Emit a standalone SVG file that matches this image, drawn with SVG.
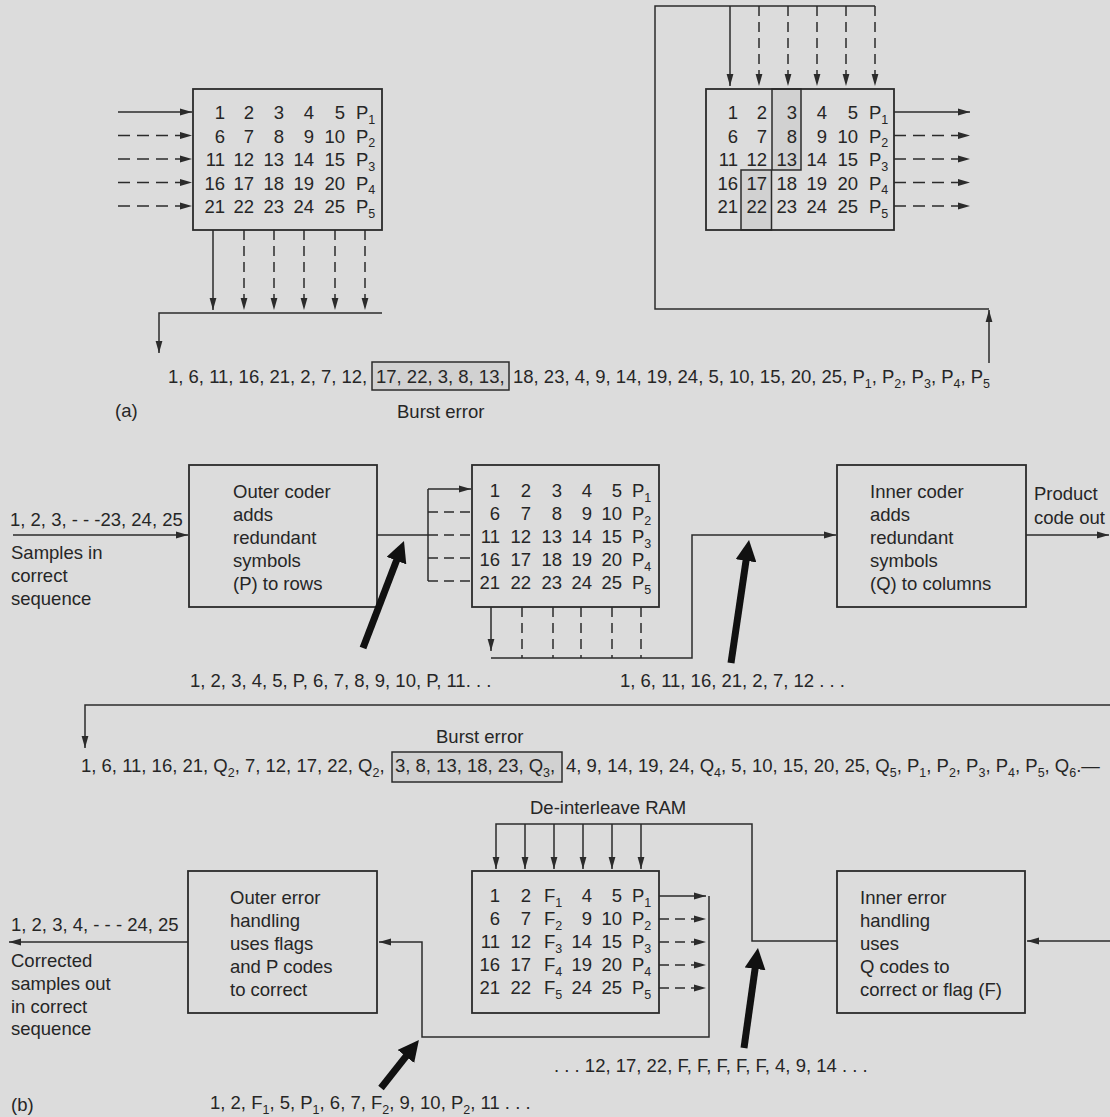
<svg xmlns="http://www.w3.org/2000/svg" width="1110" height="1117" viewBox="0 0 1110 1117">
<defs>
  <marker id="ah" viewBox="0 0 12 8" markerWidth="12" markerHeight="8" refX="12" refY="4" orient="auto" markerUnits="userSpaceOnUse">
    <path d="M0,0.6 L12,4 L0,7.4 z" fill="#2b2b2b"/>
  </marker>
  <marker id="big" viewBox="0 0 10 10" markerWidth="3" markerHeight="3" refX="4.3" refY="5" orient="auto">
    <path d="M0,0 L10,5 L0,10 z" fill="#111"/>
  </marker>
</defs>
<style>
  text{font-family:"Liberation Sans",Arial,Helvetica,sans-serif;font-size:18.5px;fill:#262626}
  .e{text-anchor:end}
  .s{font-size:12.5px}
  .ln{fill:none;stroke:#2b2b2b;stroke-width:1.5}
  .d{stroke-dasharray:10 6}
  .dh{stroke-dasharray:12 7}
  .box{fill:none;stroke:#2b2b2b;stroke-width:1.8}
  .hl{fill:#d1d1d1;stroke:#2b2b2b;stroke-width:1.5}
  .thick{fill:none;stroke:#111;stroke-width:7}
</style>
<rect x="0" y="0" width="1110" height="1117" fill="#dcdcdc"/>

<!-- ===== (a) interleave by rows, read by columns ===== -->
<g id="matrix-a-in">
  <rect class="box" x="193" y="89" width="189" height="141"/>
  <text class="e"><tspan x="225" y="119">1</tspan><tspan x="254" y="119">2</tspan><tspan x="284" y="119">3</tspan><tspan x="314" y="119">4</tspan><tspan x="345" y="119">5</tspan></text>
  <text class="e"><tspan x="225" y="142.5">6</tspan><tspan x="254" y="142.5">7</tspan><tspan x="284" y="142.5">8</tspan><tspan x="314" y="142.5">9</tspan><tspan x="345" y="142.5">10</tspan></text>
  <text class="e"><tspan x="225" y="166">11</tspan><tspan x="254" y="166">12</tspan><tspan x="284" y="166">13</tspan><tspan x="314" y="166">14</tspan><tspan x="345" y="166">15</tspan></text>
  <text class="e"><tspan x="225" y="189.5">16</tspan><tspan x="254" y="189.5">17</tspan><tspan x="284" y="189.5">18</tspan><tspan x="314" y="189.5">19</tspan><tspan x="345" y="189.5">20</tspan></text>
  <text class="e"><tspan x="225" y="213">21</tspan><tspan x="254" y="213">22</tspan><tspan x="284" y="213">23</tspan><tspan x="314" y="213">24</tspan><tspan x="345" y="213">25</tspan></text>
  <text x="356" y="119">P<tspan class="s" dy="4.5">1</tspan></text>
  <text x="356" y="142.5">P<tspan class="s" dy="4.5">2</tspan></text>
  <text x="356" y="166">P<tspan class="s" dy="4.5">3</tspan></text>
  <text x="356" y="189.5">P<tspan class="s" dy="4.5">4</tspan></text>
  <text x="356" y="213">P<tspan class="s" dy="4.5">5</tspan></text>
</g>

<g id="matrix-a-out">
  <path class="hl" d="M772,89 H801 V170 H772 Z"/>
  <path class="hl" d="M741,170 H771.5 V230 H741 Z"/>
  <rect class="box" x="706" y="89" width="188" height="141"/>
  <text class="e"><tspan x="738" y="119">1</tspan><tspan x="767" y="119">2</tspan><tspan x="797" y="119">3</tspan><tspan x="827" y="119">4</tspan><tspan x="858" y="119">5</tspan></text>
  <text class="e"><tspan x="738" y="142.5">6</tspan><tspan x="767" y="142.5">7</tspan><tspan x="797" y="142.5">8</tspan><tspan x="827" y="142.5">9</tspan><tspan x="858" y="142.5">10</tspan></text>
  <text class="e"><tspan x="738" y="166">11</tspan><tspan x="767" y="166">12</tspan><tspan x="797" y="166">13</tspan><tspan x="827" y="166">14</tspan><tspan x="858" y="166">15</tspan></text>
  <text class="e"><tspan x="738" y="189.5">16</tspan><tspan x="767" y="189.5">17</tspan><tspan x="797" y="189.5">18</tspan><tspan x="827" y="189.5">19</tspan><tspan x="858" y="189.5">20</tspan></text>
  <text class="e"><tspan x="738" y="213">21</tspan><tspan x="767" y="213">22</tspan><tspan x="797" y="213">23</tspan><tspan x="827" y="213">24</tspan><tspan x="858" y="213">25</tspan></text>
  <text x="869" y="119">P<tspan class="s" dy="4.5">1</tspan></text>
  <text x="869" y="142.5">P<tspan class="s" dy="4.5">2</tspan></text>
  <text x="869" y="166">P<tspan class="s" dy="4.5">3</tspan></text>
  <text x="869" y="189.5">P<tspan class="s" dy="4.5">4</tspan></text>
  <text x="869" y="213">P<tspan class="s" dy="4.5">5</tspan></text>
</g>

<g id="sequence-a">
  <rect class="hl" x="372" y="362" width="137" height="28"/>
  <text x="168" y="383">1, 6, 11, 16, 21, 2, 7, 12,</text>
  <text x="376" y="383">17, 22, 3, 8, 13,</text>
  <text x="513" y="383">18, 23, 4, 9, 14, 19, 24, 5, 10, 15, 20, 25, P<tspan class="s" dy="4.5">1</tspan><tspan dy="-4.5">, P</tspan><tspan class="s" dy="4.5">2</tspan><tspan dy="-4.5">, P</tspan><tspan class="s" dy="4.5">3</tspan><tspan dy="-4.5">, P</tspan><tspan class="s" dy="4.5">4</tspan><tspan dy="-4.5">, P</tspan><tspan class="s" dy="4.5">5</tspan></text>
  <text x="397" y="418">Burst error</text>
  <text x="115" y="417">(a)</text>
</g>

<g id="connectors-a">
  <!-- row inputs -->
  <path class="ln" d="M118,112 H192" marker-end="url(#ah)"/>
  <path class="ln dh" d="M118,135.5 H192" marker-end="url(#ah)"/>
  <path class="ln dh" d="M118,159 H192" marker-end="url(#ah)"/>
  <path class="ln dh" d="M118,182.5 H192" marker-end="url(#ah)"/>
  <path class="ln dh" d="M118,206 H192" marker-end="url(#ah)"/>
  <!-- column outputs -->
  <path class="ln" d="M213,230 V310" marker-end="url(#ah)"/>
  <path class="ln d" d="M244,230 V310" marker-end="url(#ah)"/>
  <path class="ln d" d="M274,230 V310" marker-end="url(#ah)"/>
  <path class="ln d" d="M304,230 V310" marker-end="url(#ah)"/>
  <path class="ln d" d="M335,230 V310" marker-end="url(#ah)"/>
  <path class="ln d" d="M365,230 V310" marker-end="url(#ah)"/>
  <path class="ln" d="M382,313 H159 V353" marker-end="url(#ah)"/>
  <!-- loop back to the de-interleave matrix -->
  <path class="ln" d="M989,363 V310" marker-end="url(#ah)"/>
  <path class="ln" d="M989,309 H655 V6 H875"/>
  <path class="ln" d="M730,6 V86" marker-end="url(#ah)"/>
  <path class="ln d" d="M759,6 V86" marker-end="url(#ah)"/>
  <path class="ln d" d="M788,6 V86" marker-end="url(#ah)"/>
  <path class="ln d" d="M817,6 V86" marker-end="url(#ah)"/>
  <path class="ln d" d="M846,6 V86" marker-end="url(#ah)"/>
  <path class="ln d" d="M875,6 V86" marker-end="url(#ah)"/>
  <!-- row outputs -->
  <path class="ln" d="M894,112 H970" marker-end="url(#ah)"/>
  <path class="ln dh" d="M894,135.5 H970" marker-end="url(#ah)"/>
  <path class="ln dh" d="M894,159 H970" marker-end="url(#ah)"/>
  <path class="ln dh" d="M894,182.5 H970" marker-end="url(#ah)"/>
  <path class="ln dh" d="M894,206 H970" marker-end="url(#ah)"/>
</g>

<!-- ===== (b) product code encoder / decoder ===== -->
<g id="outer-coder">
  <rect class="box" x="189" y="465" width="188" height="142"/>
  <text x="233" y="498">Outer coder</text>
  <text x="233" y="521">adds</text>
  <text x="233" y="544">redundant</text>
  <text x="233" y="567">symbols</text>
  <text x="233" y="590">(P) to rows</text>
</g>

<g id="interleave-matrix">
  <rect class="box" x="472" y="465" width="187" height="142"/>
  <text class="e"><tspan x="500" y="497">1</tspan><tspan x="531" y="497">2</tspan><tspan x="562" y="497">3</tspan><tspan x="592" y="497">4</tspan><tspan x="622" y="497">5</tspan></text>
  <text class="e"><tspan x="500" y="520">6</tspan><tspan x="531" y="520">7</tspan><tspan x="562" y="520">8</tspan><tspan x="592" y="520">9</tspan><tspan x="622" y="520">10</tspan></text>
  <text class="e"><tspan x="500" y="543">11</tspan><tspan x="531" y="543">12</tspan><tspan x="562" y="543">13</tspan><tspan x="592" y="543">14</tspan><tspan x="622" y="543">15</tspan></text>
  <text class="e"><tspan x="500" y="566">16</tspan><tspan x="531" y="566">17</tspan><tspan x="562" y="566">18</tspan><tspan x="592" y="566">19</tspan><tspan x="622" y="566">20</tspan></text>
  <text class="e"><tspan x="500" y="589">21</tspan><tspan x="531" y="589">22</tspan><tspan x="562" y="589">23</tspan><tspan x="592" y="589">24</tspan><tspan x="622" y="589">25</tspan></text>
  <text x="632" y="497">P<tspan class="s" dy="4.5">1</tspan></text>
  <text x="632" y="520">P<tspan class="s" dy="4.5">2</tspan></text>
  <text x="632" y="543">P<tspan class="s" dy="4.5">3</tspan></text>
  <text x="632" y="566">P<tspan class="s" dy="4.5">4</tspan></text>
  <text x="632" y="589">P<tspan class="s" dy="4.5">5</tspan></text>
</g>

<g id="inner-coder">
  <rect class="box" x="837" y="465" width="189" height="142"/>
  <text x="870" y="498">Inner coder</text>
  <text x="870" y="521">adds</text>
  <text x="870" y="544">redundant</text>
  <text x="870" y="567">symbols</text>
  <text x="870" y="590">(Q) to columns</text>
</g>

<g id="outer-error">
  <rect class="box" x="188" y="871" width="189" height="142"/>
  <text x="230" y="904">Outer error</text>
  <text x="230" y="927">handling</text>
  <text x="230" y="950">uses flags</text>
  <text x="230" y="973">and P codes</text>
  <text x="230" y="996">to correct</text>
</g>

<g id="deinterleave-ram">
  <rect class="box" x="472" y="871" width="187" height="142"/>
  <text class="e"><tspan x="500" y="902">1</tspan><tspan x="531" y="902">2</tspan><tspan x="592" y="902">4</tspan><tspan x="622" y="902">5</tspan></text>
  <text class="e"><tspan x="500" y="925">6</tspan><tspan x="531" y="925">7</tspan><tspan x="592" y="925">9</tspan><tspan x="622" y="925">10</tspan></text>
  <text class="e"><tspan x="500" y="948">11</tspan><tspan x="531" y="948">12</tspan><tspan x="592" y="948">14</tspan><tspan x="622" y="948">15</tspan></text>
  <text class="e"><tspan x="500" y="971">16</tspan><tspan x="531" y="971">17</tspan><tspan x="592" y="971">19</tspan><tspan x="622" y="971">20</tspan></text>
  <text class="e"><tspan x="500" y="994">21</tspan><tspan x="531" y="994">22</tspan><tspan x="592" y="994">24</tspan><tspan x="622" y="994">25</tspan></text>
  <text x="544" y="902">F<tspan class="s" dy="4.5">1</tspan></text>
  <text x="544" y="925">F<tspan class="s" dy="4.5">2</tspan></text>
  <text x="544" y="948">F<tspan class="s" dy="4.5">3</tspan></text>
  <text x="544" y="971">F<tspan class="s" dy="4.5">4</tspan></text>
  <text x="544" y="994">F<tspan class="s" dy="4.5">5</tspan></text>
  <text x="632" y="902">P<tspan class="s" dy="4.5">1</tspan></text>
  <text x="632" y="925">P<tspan class="s" dy="4.5">2</tspan></text>
  <text x="632" y="948">P<tspan class="s" dy="4.5">3</tspan></text>
  <text x="632" y="971">P<tspan class="s" dy="4.5">4</tspan></text>
  <text x="632" y="994">P<tspan class="s" dy="4.5">5</tspan></text>
</g>

<g id="inner-error">
  <rect class="box" x="837" y="871" width="188" height="142"/>
  <text x="860" y="904">Inner error</text>
  <text x="860" y="927">handling</text>
  <text x="860" y="950">uses</text>
  <text x="860" y="973">Q codes to</text>
  <text x="860" y="996">correct or flag (F)</text>
</g>

<g id="labels-b">
  <text x="10" y="526">1, 2, 3, - - -23, 24, 25</text>
  <text x="11" y="559">Samples in</text>
  <text x="11" y="582">correct</text>
  <text x="11" y="605">sequence</text>
  <text x="1034" y="500">Product</text>
  <text x="1034" y="524">code out</text>
  <text x="190" y="687">1, 2, 3, 4, 5, P, 6, 7, 8, 9, 10, P, 11. . .</text>
  <text x="620" y="687">1, 6, 11, 16, 21, 2, 7, 12 . . .</text>
  <text x="436" y="743">Burst error</text>
  <rect class="hl" x="392" y="752" width="170" height="30"/>
  <text x="81" y="772">1, 6, 11, 16, 21, Q<tspan class="s" dy="4.5">2</tspan><tspan dy="-4.5">, 7, 12, 17, 22, Q</tspan><tspan class="s" dy="4.5">2</tspan><tspan dy="-4.5">,</tspan></text>
  <text x="395" y="772">3, 8, 13, 18, 23, Q<tspan class="s" dy="4.5">3</tspan><tspan dy="-4.5">,</tspan></text>
  <text x="566" y="772">4, 9, 14, 19, 24, Q<tspan class="s" dy="4.5">4</tspan><tspan dy="-4.5">, 5, 10, 15, 20, 25, Q</tspan><tspan class="s" dy="4.5">5</tspan><tspan dy="-4.5">, P</tspan><tspan class="s" dy="4.5">1</tspan><tspan dy="-4.5">, P</tspan><tspan class="s" dy="4.5">2</tspan><tspan dy="-4.5">, P</tspan><tspan class="s" dy="4.5">3</tspan><tspan dy="-4.5">, P</tspan><tspan class="s" dy="4.5">4</tspan><tspan dy="-4.5">, P</tspan><tspan class="s" dy="4.5">5</tspan><tspan dy="-4.5">, Q</tspan><tspan class="s" dy="4.5">6</tspan><tspan dy="-4.5">.—</tspan></text>
  <text x="530" y="814">De-interleave RAM</text>
  <text x="11" y="931">1, 2, 3, 4, - - -  24, 25</text>
  <text x="11" y="967">Corrected</text>
  <text x="11" y="990">samples out</text>
  <text x="11" y="1013">in correct</text>
  <text x="11" y="1035">sequence</text>
  <text x="11" y="1111">(b)</text>
  <text x="210" y="1109">1, 2, F<tspan class="s" dy="4.5">1</tspan><tspan dy="-4.5">, 5, P</tspan><tspan class="s" dy="4.5">1</tspan><tspan dy="-4.5">, 6, 7, F</tspan><tspan class="s" dy="4.5">2</tspan><tspan dy="-4.5">, 9, 10,  P</tspan><tspan class="s" dy="4.5">2</tspan><tspan dy="-4.5">, 11 . . .</tspan></text>
  <text x="554" y="1072">. . . 12, 17, 22, F, F, F, F, F, 4, 9, 14 . . .</text>
</g>

<g id="connectors-b">
  <path class="ln" d="M13,535 H188" marker-end="url(#ah)"/>
  <path class="ln" d="M377,535 H428"/>
  <path class="ln" d="M428,489 V581"/>
  <path class="ln" d="M428,489 H471" marker-end="url(#ah)"/>
  <path class="ln d" d="M428,512 H472"/>
  <path class="ln d" d="M428,535 H472"/>
  <path class="ln d" d="M428,558 H472"/>
  <path class="ln d" d="M428,581 H472"/>
  <path class="ln" d="M491,607 V651" marker-end="url(#ah)"/>
  <path class="ln d" d="M522,607 V658"/>
  <path class="ln d" d="M553,607 V658"/>
  <path class="ln d" d="M581,607 V658"/>
  <path class="ln d" d="M612,607 V658"/>
  <path class="ln d" d="M641,607 V658"/>
  <path class="ln" d="M491,658 H692 V535 H836" marker-end="url(#ah)"/>
  <path class="ln" d="M1026,535 H1109" marker-end="url(#ah)"/>
  <path class="ln" d="M1110,705 H85 V748" marker-end="url(#ah)"/>
  <path class="ln" d="M1110,941 H1027" marker-end="url(#ah)"/>
  <!-- de-interleave RAM loop -->
  <path class="ln" d="M837,941 H752 V824 H496 V869" marker-end="url(#ah)"/>
  <path class="ln" d="M525,824 V869" marker-end="url(#ah)"/>
  <path class="ln" d="M554,824 V869" marker-end="url(#ah)"/>
  <path class="ln" d="M583,824 V869" marker-end="url(#ah)"/>
  <path class="ln" d="M612,824 V869" marker-end="url(#ah)"/>
  <path class="ln" d="M641,824 V869" marker-end="url(#ah)"/>
  <path class="ln" d="M659,896 H706" marker-end="url(#ah)"/>
  <path class="ln d" d="M659,919 H706" marker-end="url(#ah)"/>
  <path class="ln d" d="M659,942 H706" marker-end="url(#ah)"/>
  <path class="ln d" d="M659,965 H706" marker-end="url(#ah)"/>
  <path class="ln d" d="M659,988 H706" marker-end="url(#ah)"/>
  <path class="ln" d="M709,896 V1037 H422 V942 H379" marker-end="url(#ah)"/>
  <path class="ln" d="M188,942 H9" marker-end="url(#ah)"/>
  <!-- data-stream pointers -->
  <path class="thick" d="M363,648 L399.7,552.2" marker-end="url(#big)"/>
  <path class="thick" d="M731,663 L747.3,551.9" marker-end="url(#big)"/>
  <path class="thick" d="M381,1088 L411.5,1049.4" marker-end="url(#big)"/>
  <path class="thick" d="M744,1048 L756.3,959.9" marker-end="url(#big)"/>
</g>
</svg>
